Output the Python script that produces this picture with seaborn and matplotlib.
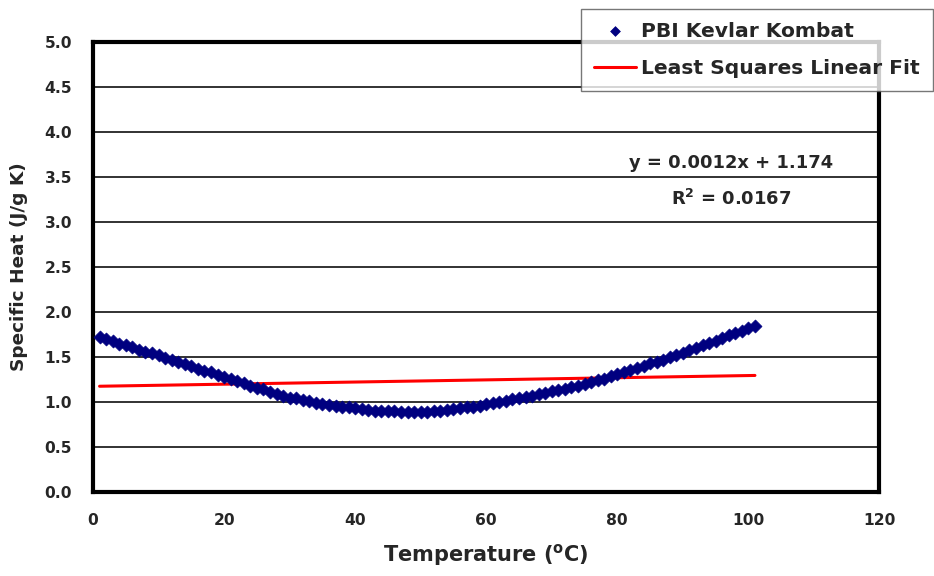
import numpy as np
import pandas as pd
import matplotlib
matplotlib.use('Agg')
import matplotlib.pyplot as plt
import seaborn as sns
from matplotlib.ticker import MultipleLocator

# temperature (C) and measured specific heat (J/g K)
temps = list(range(1, 102))
cp = [1.72, 1.70, 1.68, 1.65, 1.63, 1.61, 1.58, 1.56, 1.54, 1.52,
      1.49, 1.47, 1.45, 1.42, 1.40, 1.37, 1.35, 1.33, 1.30, 1.28,
      1.26, 1.23, 1.21, 1.18, 1.16, 1.14, 1.11, 1.09, 1.07, 1.05,
      1.04, 1.02, 1.01, 0.99, 0.98, 0.97, 0.96, 0.95, 0.94, 0.93,
      0.92, 0.91, 0.905, 0.90, 0.90, 0.895, 0.89, 0.89, 0.89, 0.89,
      0.89, 0.895, 0.90, 0.91, 0.92, 0.93, 0.94, 0.95, 0.96, 0.975,
      0.99, 1.00, 1.01, 1.03, 1.04, 1.06, 1.07, 1.09, 1.10, 1.12,
      1.13, 1.15, 1.165, 1.18, 1.20, 1.22, 1.24, 1.26, 1.29, 1.31,
      1.33, 1.36, 1.38, 1.40, 1.43, 1.45, 1.47, 1.50, 1.52, 1.55,
      1.58, 1.60, 1.63, 1.66, 1.68, 1.71, 1.74, 1.77, 1.79, 1.82,
      1.85]

# least squares fit as reported on the chart
slope = 0.0012
intercept = 1.174
fit_label = 'y = 0.0012x + 1.174'
r2_label = r'R$\mathregular{^2}$ = 0.0167'

df = pd.DataFrame({'Temperature': temps, 'Cp': cp})
df['Fit'] = intercept + slope * df['Temperature']

sns.set_style('white')
plt.rcParams['font.family'] = ['DejaVu Sans']
plt.rcParams['font.weight'] = 'bold'
plt.rcParams['mathtext.default'] = 'regular'

fig = plt.figure(figsize=(9.34, 5.76), dpi=100)
ax = fig.add_axes([0.0996, 0.1458, 0.8420, 0.7813])

for yy in np.arange(0.5, 5.0, 0.5):
    ax.axhline(yy, color='#222222', lw=1.3, zorder=0)

sns.lineplot(data=df, x='Temperature', y='Fit', color='red', lw=2.2,
             label='Least Squares Linear Fit', ax=ax, zorder=2)
sns.scatterplot(data=df, x='Temperature', y='Cp', marker='D', s=44,
                color='#000080', edgecolor='#000080', linewidth=0.5,
                label='PBI Kevlar Kombat', ax=ax, zorder=3)

ax.set_xlim(0, 120)
ax.set_ylim(0, 5)
ax.xaxis.set_major_locator(MultipleLocator(20))
ax.xaxis.set_minor_locator(MultipleLocator(5))
ax.set_yticks(np.arange(0, 5.01, 0.5))
ax.set_yticklabels(['%.1f' % v for v in np.arange(0, 5.01, 0.5)])
ax.tick_params(axis='x', which='major', direction='in', length=7, width=2.5,
               labelsize=11.2, pad=15, color='black')
ax.tick_params(axis='x', which='minor', direction='in', length=5, width=2.5,
               color='black')
ax.tick_params(axis='y', length=0, labelsize=11.2, pad=15)
for lab in ax.get_xticklabels() + ax.get_yticklabels():
    lab.set_fontweight('bold')

for sp in ax.spines.values():
    sp.set_linewidth(3)
    sp.set_color('black')

ax.set_xlabel(r'Temperature ($\mathregular{^o}$C)', fontsize=15, fontweight='bold', labelpad=10)
ax.set_ylabel('Specific Heat (J/g K)', fontsize=13.3, fontweight='bold', labelpad=12)

ax.text(97.3, 3.66, fit_label, fontsize=12.9, fontweight='bold', ha='center', va='center')
ax.text(97.3, 3.26, r2_label, fontsize=12.9, fontweight='bold', ha='center', va='center')

handles, labels = ax.get_legend_handles_labels()
ax.get_legend().remove()
order = [labels.index('PBI Kevlar Kombat'), labels.index('Least Squares Linear Fit')]
leg = fig.legend([handles[i] for i in order], [labels[i] for i in order],
                 loc='upper left', bbox_to_anchor=(0.622, 0.985),
                 borderaxespad=0, fancybox=False, frameon=True,
                 edgecolor='#555555', prop={'weight': 'bold', 'size': 14.6},
                 borderpad=0.65, handlelength=2.05, handletextpad=0.25,
                 labelspacing=0.9, markerscale=0.75)
leg.get_frame().set_linewidth(1.0)

fig.savefig('out.png', dpi=100)
